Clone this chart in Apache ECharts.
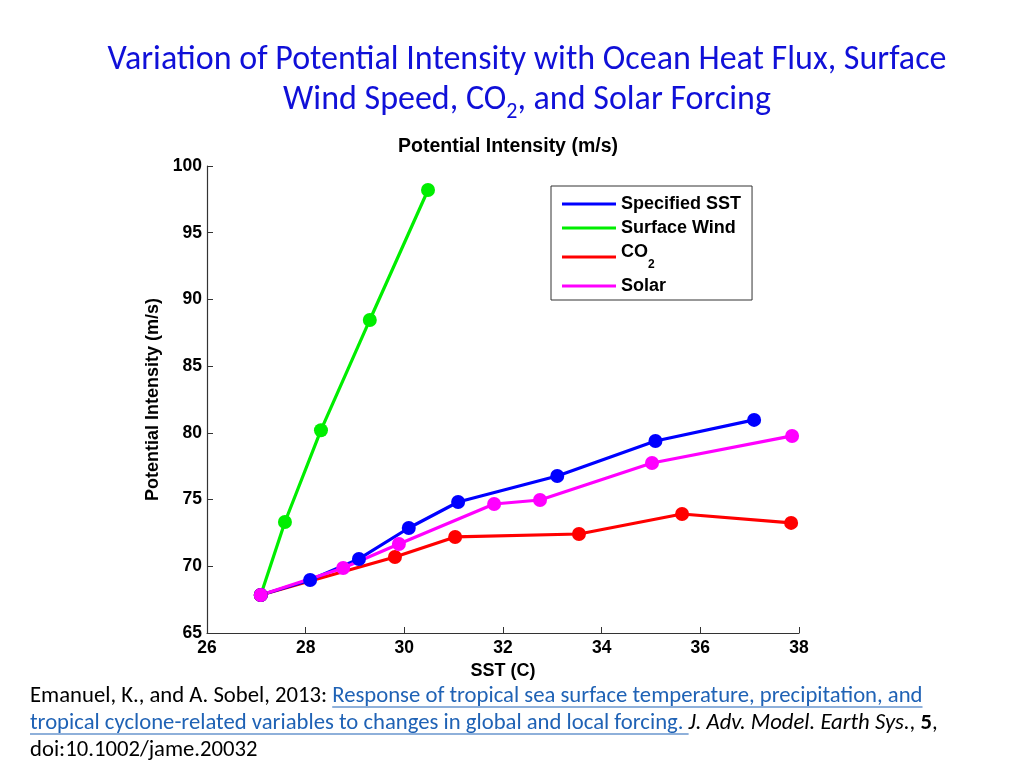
<!DOCTYPE html>
<html>
<head>
<meta charset="utf-8">
<script src="https://cdn.jsdelivr.net/npm/echarts@6/dist/echarts.min.js"></script>
<style>
html,body{margin:0;padding:0;background:#fff;}
#chart{width:1024px;height:768px;}
</style>
</head>
<body>
<div id="chart"></div>
<script>
// ---- Data ----
const seriesNames = ['Specified SST', 'Surface Wind', 'CO2', 'Solar'];
const specifiedSST = [[27.09, 67.85], [28.09, 68.97], [29.08, 70.55], [30.09, 72.87], [31.09, 74.82], [33.10, 76.77], [35.09, 79.39], [37.09, 80.97]];
const surfaceWind = [[27.09, 67.85], [27.58, 73.32], [28.31, 80.20], [29.30, 88.46], [30.48, 98.20]];
const co2 = [[27.09, 67.85], [29.81, 70.70], [31.03, 72.20], [33.54, 72.42], [35.63, 73.92], [37.84, 73.25]];
const solar = [[27.09, 67.85], [28.76, 69.87], [29.89, 71.67], [31.82, 74.67], [32.75, 74.97], [35.02, 77.74], [37.86, 79.77]];
const xTicks = { min: 26, max: 38, interval: 2 };
const yTicks = { min: 65, max: 100, interval: 5 };

// ---- Text ----
const titleLine1 = 'Variation of Potential Intensity with Ocean Heat Flux, Surface';
const titleLine2a = 'Wind Speed, CO', titleLine2b = '2', titleLine2c = ', and Solar Forcing';
const refPlain = 'Emanuel, K., and A. Sobel, 2013: ';
const refLink1 = 'Response of tropical sea surface temperature, precipitation, and';
const refLink2 = 'tropical cyclone-related variables to changes in global and local forcing. ';
const refJournal = 'J. Adv. Model. Earth Sys.';
const refDoi = 'doi:10.1002/jame.20032';

const CAL = 'Carlito, Lato, "Open Sans", sans-serif';
const ARIAL = '"Liberation Sans", Arial, sans-serif';

const mctx = document.createElement('canvas').getContext('2d');
function tw(text, font) { mctx.font = font; return mctx.measureText(text).width; }

// fit title font to reference width (839px for line 1)
const tSize = Math.round(30 * 839 / tw(titleLine1, '30px ' + CAL) * 10) / 10;
// fit footer font (line 1 spans ~894px)
const fSize = Math.round(20 * 894 / tw(refPlain + refLink1, '20px ' + CAL) * 10) / 10;
const fFont = fSize + 'px ' + CAL;
const wPlain = tw(refPlain, fFont);
const wLink1 = tw(refLink1, fFont);
const wLink2 = tw(refLink2, fFont);

const linkColor = '#1F62B5';
const titleColor = '#1010D8';

const chart = echarts.init(document.getElementById('chart'), null, { renderer: 'canvas' });

function mkSeries(name, data, color) {
  return {
    name: name, type: 'line', data: data,
    symbol: 'circle', symbolSize: 14,
    lineStyle: { width: 3.2, color: color },
    itemStyle: { color: color },
    emphasis: { disabled: true },
    animation: false
  };
}

const option = {
  backgroundColor: '#fff',
  animation: false,
  title: {
    text: 'Potential Intensity (m/s)',
    left: 503, top: 132, textAlign: 'center',
    textStyle: { fontFamily: ARIAL, fontWeight: 'bold', fontSize: 19.5, color: '#000' }
  },
  grid: { left: 207, right: 225, top: 166, bottom: 135 },
  xAxis: {
    type: 'value', min: xTicks.min, max: xTicks.max, interval: xTicks.interval,
    name: 'SST (C)', nameLocation: 'middle', nameGap: 28,
    nameTextStyle: { fontFamily: ARIAL, fontWeight: 'bold', fontSize: 18, color: '#000' },
    axisLine: { show: true, lineStyle: { color: '#333', width: 1.2 } },
    axisTick: { show: true, inside: true, length: 6, lineStyle: { color: '#333' } },
    axisLabel: { margin: 6, fontFamily: ARIAL, fontWeight: 'bold', fontSize: 17.5, color: '#000' },
    splitLine: { show: false }
  },
  yAxis: {
    type: 'value', min: yTicks.min, max: yTicks.max, interval: yTicks.interval,
    name: 'Potential Intensity (m/s)', nameLocation: 'middle', nameGap: 40, nameRotate: 90,
    nameTextStyle: { fontFamily: ARIAL, fontWeight: 'bold', fontSize: 18, color: '#000' },
    axisLine: { show: true, lineStyle: { color: '#333', width: 1.2 } },
    axisTick: { show: true, inside: true, length: 6, lineStyle: { color: '#333' } },
    axisLabel: { margin: 5, fontFamily: ARIAL, fontWeight: 'bold', fontSize: 17.5, color: '#000' },
    splitLine: { show: false }
  },
  legend: {
    orient: 'vertical', left: 551, top: 186,
    data: seriesNames,
    icon: 'rect', itemWidth: 54, itemHeight: 3, itemGap: 6,
    padding: [9, 11, 5, 11],
    backgroundColor: '#fff', borderColor: '#333', borderWidth: 1,
    formatter: function (n) { return n === 'CO2' ? '{m|CO}{s|2}' : '{m|' + n + '}'; },
    textStyle: {
      fontFamily: ARIAL, fontWeight: 'bold', fontSize: 18, color: '#000',
      rich: {
        m: { fontFamily: ARIAL, fontWeight: 'bold', fontSize: 18, color: '#000', verticalAlign: 'top' },
        s: { fontFamily: ARIAL, fontWeight: 'bold', fontSize: 12, color: '#000', verticalAlign: 'bottom', lineHeight: 28 }
      }
    }
  },
  series: [
    mkSeries('Surface Wind', surfaceWind, '#00EE00'),
    mkSeries('CO2', co2, '#FF0000'),
    mkSeries('Specified SST', specifiedSST, '#0000FF'),
    mkSeries('Solar', solar, '#FF00FF')
  ],
  graphic: [
    { type: 'text', x: 527, y: 43,
      style: { text: titleLine1, font: tSize + 'px ' + CAL, fill: titleColor, align: 'center' } },
    { type: 'text', x: 527, y: 83,
      style: {
        text: '{a|' + titleLine2a + '}{b|' + titleLine2b + '}{a|' + titleLine2c + '}',
        align: 'center',
        rich: {
          a: { fontFamily: CAL, fontSize: tSize, fill: titleColor, color: titleColor, verticalAlign: 'top', lineHeight: 40 },
          b: { fontFamily: CAL, fontSize: Math.round(tSize * 0.66), fill: titleColor, color: titleColor, verticalAlign: 'bottom', lineHeight: 40 }
        }
      } },
    // footer reference
    { type: 'text', x: 30, y: 685,
      style: {
        text: '{p|' + refPlain + '}{l|' + refLink1 + '}',
        rich: {
          p: { fontFamily: CAL, fontSize: fSize, fill: '#000' },
          l: { fontFamily: CAL, fontSize: fSize, fill: linkColor }
        }
      } },
    { type: 'line', shape: { x1: 30 + wPlain, y1: 707, x2: 30 + wPlain + wLink1, y2: 707 }, style: { stroke: linkColor, lineWidth: 1.2 } },
    { type: 'text', x: 30, y: 712,
      style: {
        text: '{l|' + refLink2 + '}{i|' + refJournal + '}{p|, }{b|5}{p|,}',
        rich: {
          p: { fontFamily: CAL, fontSize: fSize, fill: '#000' },
          l: { fontFamily: CAL, fontSize: fSize, fill: linkColor },
          i: { fontFamily: CAL, fontSize: fSize, fontStyle: 'italic', fill: '#000' },
          b: { fontFamily: CAL, fontSize: fSize, fontWeight: 'bold', fill: '#000' }
        }
      } },
    { type: 'line', shape: { x1: 30, y1: 734, x2: 30 + wLink2, y2: 734 }, style: { stroke: linkColor, lineWidth: 1.2 } },
    { type: 'text', x: 30, y: 739,
      style: { text: refDoi, font: fFont, fill: '#000' } }
  ]
};
chart.setOption(option);
</script>
</body>
</html>
